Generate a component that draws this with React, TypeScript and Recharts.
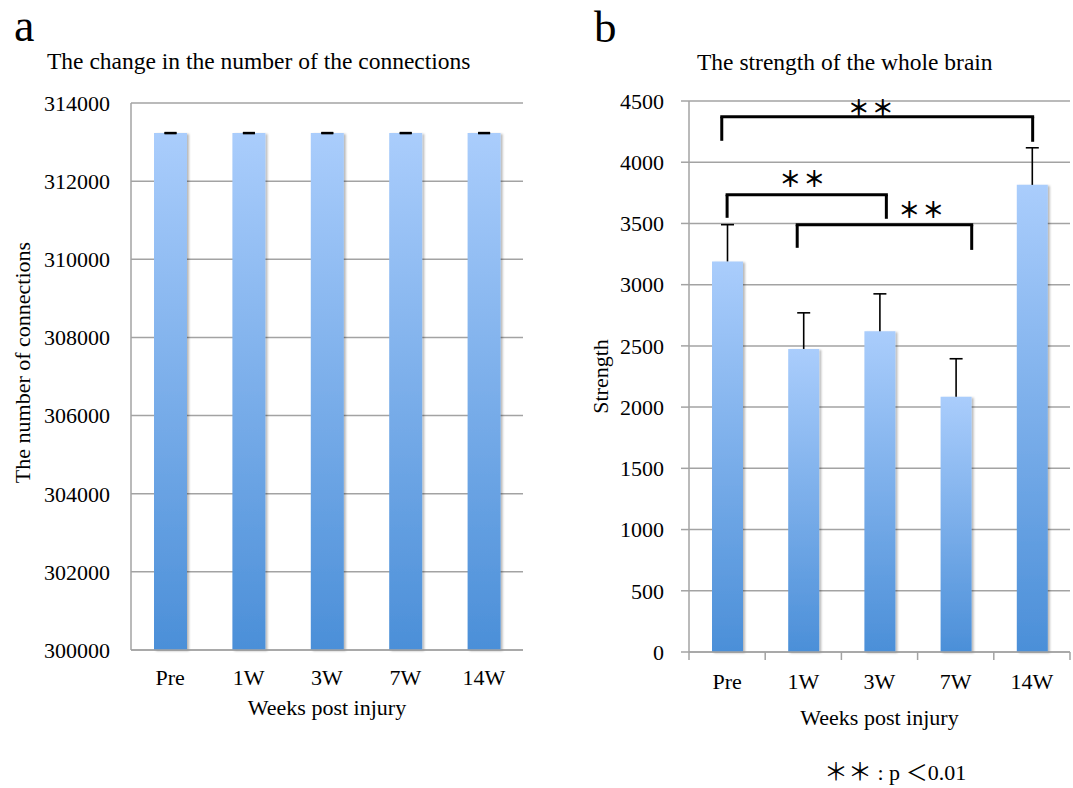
import React from 'react';
import {
  BarChart,
  Bar,
  XAxis,
  YAxis,
  CartesianGrid,
  ErrorBar,
  ReferenceLine,
  ReferenceDot,
} from 'recharts';

const weeks = ['Pre', '1W', '3W', '7W', '14W'];

// panel a: number of connections (identical for every time point)
const connections = [313230, 313230, 313230, 313230, 313230];
const connectionsErr = [4, 4, 4, 4, 4];
const connTicks = [300000, 302000, 304000, 306000, 308000, 310000, 312000, 314000];

// panel b: strength of the whole brain
const strength = [3190, 2475, 2620, 2085, 3815];
const strengthErr = [300, 295, 305, 310, 303];
const strengthTicks = [0, 500, 1000, 1500, 2000, 2500, 3000, 3500, 4000, 4500];
// category boundaries (tick marks) and centres (labels) on the index scale
const weekEdges = [-0.5, 0.5, 1.5, 2.5, 3.5, 4.5];
const weekCentres = [0, 1, 2, 3, 4];

// significance brackets (x on category index scale, y in strength units)
const bracketFrom = [-0.07, 0.0, 0.92];
const bracketTo = [4.01, 2.09, 3.21];
const bracketTop = [4371, 3734, 3489];
const bracketDropL = [4175, 3546, 3301];
const bracketDropR = [4167, 3538, 3284];
const starX = [1.9, 1.0, 2.56];
const starY = [4444, 3864, 3611];

const serif = '"Liberation Serif", "Times New Roman", serif';
const cjk = '"Noto Sans CJK JP", sans-serif';
const gridColor = '#a3a3a3';
const tickStyle = { fontFamily: serif, fontSize: 22, fill: '#000' };
const labelStyle = { fontFamily: serif, fontSize: 22, fill: '#000' };
const TICK_GAP_B = 21;

const dataA = weeks.map((w, i) => ({ week: w, value: connections[i], err: connectionsErr[i] }));
const dataB = weeks.map((w, i) => ({ week: w, pos: i, value: strength[i], err: strengthErr[i] }));
const weekTicks = [...weekEdges, ...weekCentres].sort((a, b) => a - b);

function BarDefs({ id }: { id: string }) {
  return (
    <defs>
      <linearGradient id={`grad-${id}`} x1="0" y1="0" x2="0" y2="1">
        <stop offset="0%" stopColor="#aacdfc" />
        <stop offset="100%" stopColor="#4b8fd8" />
      </linearGradient>
      <filter id={`shadow-${id}`} x="-20%" y="-5%" width="150%" height="110%">
        <feDropShadow dx="2" dy="1" stdDeviation="1.2" floodColor="#000" floodOpacity="0.28" />
      </filter>
    </defs>
  );
}

// upward-only error bar drawn on top of the stacked value bar
function UpperError(props: any) {
  const { x, y, width, height } = props;
  if (x == null || y == null) return null;
  const cx = x + width / 2;
  return (
    <g>
      <line x1={cx} x2={cx} y1={y + height} y2={y} stroke="#000" strokeWidth={1.6} />
      <line x1={cx - 6.5} x2={cx + 6.5} y1={y} y2={y} stroke="#000" strokeWidth={1.6} />
    </g>
  );
}

// label at category centres, short tick mark at category boundaries
function WeekTick(props: any) {
  const { x, y, payload } = props;
  const v = payload.value;
  if (!Number.isInteger(v)) {
    const axisY = y - TICK_GAP_B;
    return <line x1={x} x2={x} y1={axisY} y2={axisY + 8} stroke={gridColor} strokeWidth={1.5} />;
  }
  return (
    <text x={x} y={y} dy="0.71em" textAnchor="middle" {...tickStyle}>
      {weeks[v]}
    </text>
  );
}

function ConnectionsChart() {
  return (
    <BarChart
      width={540}
      height={788}
      data={dataA}
      margin={{ top: 103, right: 17, bottom: 73, left: 0 }}
    >
      <BarDefs id="a" />
      <CartesianGrid vertical={false} stroke={gridColor} strokeWidth={1.5} />
      <XAxis
        dataKey="week"
        height={65}
        axisLine={{ stroke: gridColor, strokeWidth: 1.5 }}
        tickLine={false}
        tickSize={0}
        tickMargin={19}
        tick={tickStyle}
        label={{ value: 'Weeks post injury', position: 'insideBottom', offset: 0, ...labelStyle }}
      />
      <YAxis
        domain={[300000, 314000]}
        ticks={connTicks}
        interval={0}
        width={131}
        axisLine={{ stroke: gridColor, strokeWidth: 1.5 }}
        tickLine={false}
        tickSize={0}
        tickMargin={21}
        tick={tickStyle}
        label={{
          value: 'The number of connections',
          angle: -90,
          position: 'center',
          dx: -43.5,
          dy: -14,
          ...labelStyle,
        }}
      />
      <Bar
        dataKey="value"
        barSize={33}
        fill="url(#grad-a)"
        filter="url(#shadow-a)"
        isAnimationActive={false}
      >
        <ErrorBar dataKey="err" width={6} strokeWidth={2.2} stroke="#000" />
      </Bar>
    </BarChart>
  );
}

function StrengthChart() {
  return (
    <BarChart
      width={513}
      height={788}
      data={dataB}
      margin={{ top: 101, right: 3, bottom: 63, left: 0 }}
    >
      <BarDefs id="b" />
      <CartesianGrid vertical={false} stroke={gridColor} strokeWidth={1.5} />
      <XAxis
        dataKey="pos"
        type="number"
        domain={[-0.5, 4.5]}
        allowDataOverflow
        ticks={weekTicks}
        interval={0}
        height={73}
        axisLine={{ stroke: gridColor, strokeWidth: 1.5 }}
        tickLine={false}
        tickSize={0}
        tickMargin={TICK_GAP_B}
        tick={WeekTick}
        label={{ value: 'Weeks post injury', position: 'insideBottom', offset: 0, ...labelStyle }}
      />
      <YAxis
        domain={[0, 4500]}
        ticks={strengthTicks}
        interval={0}
        width={129}
        axisLine={{ stroke: gridColor, strokeWidth: 1.5 }}
        tickLine={{ stroke: gridColor, strokeWidth: 1.5 }}
        tickSize={8}
        tickMargin={17}
        tick={tickStyle}
        label={{ value: 'Strength', angle: -90, position: 'center', dx: -24.5, ...labelStyle }}
      />
      <Bar
        dataKey="value"
        stackId="s"
        barSize={31}
        fill="url(#grad-b)"
        filter="url(#shadow-b)"
        isAnimationActive={false}
      />
      <Bar dataKey="err" stackId="s" barSize={31} shape={UpperError} isAnimationActive={false} />

      {/* significance brackets */}
      {bracketTop.map((top, i) => (
        <ReferenceLine
          key={`h-${i}`}
          segment={[
            { x: bracketFrom[i], y: top },
            { x: bracketTo[i], y: top },
          ]}
          stroke="#000"
          strokeWidth={3}
          strokeLinecap="square"
          ifOverflow="visible"
        />
      ))}
      {bracketTop.map((top, i) => (
        <ReferenceLine
          key={`l-${i}`}
          segment={[
            { x: bracketFrom[i], y: top },
            { x: bracketFrom[i], y: bracketDropL[i] },
          ]}
          stroke="#000"
          strokeWidth={3}
          ifOverflow="visible"
        />
      ))}
      {bracketTop.map((top, i) => (
        <ReferenceLine
          key={`r-${i}`}
          segment={[
            { x: bracketTo[i], y: top },
            { x: bracketTo[i], y: bracketDropR[i] },
          ]}
          stroke="#000"
          strokeWidth={3}
          ifOverflow="visible"
        />
      ))}
      {starX.map((sx, i) => (
        <ReferenceDot
          key={`s-${i}`}
          x={sx}
          y={starY[i]}
          r={0}
          fill="none"
          stroke="none"
          ifOverflow="visible"
          label={{
            value: '＊＊',
            position: 'center',
            fontFamily: cjk,
            fontWeight: 'bold',
            fontSize: 22,
            letterSpacing: 2,
            fill: '#000',
          }}
        />
      ))}
    </BarChart>
  );
}

export default function App() {
  return (
    <div
      style={{
        position: 'absolute',
        left: 0,
        top: 0,
        width: 1073,
        height: 788,
        background: '#fff',
        fontFamily: serif,
      }}
    >
      <svg
        width={1073}
        height={788}
        style={{ position: 'absolute', left: 0, top: 0 }}
        fontFamily={serif}
      >
        <text x={14} y={41} fontSize={46}>a</text>
        <text x={594} y={42} fontSize={45}>b</text>
        <text x={47} y={69} fontSize={23.5}>The change in the number of the connections</text>
        <text x={697} y={70} fontSize={23.5}>The strength of the whole brain</text>
        <text x={824} y={780} fontSize={22}>
          <tspan fontFamily={cjk} fontSize={24}>＊＊</tspan>
          <tspan> : p </tspan>
          <tspan fontFamily={cjk} fontSize={22}>＜</tspan>
          <tspan>0.01</tspan>
        </text>
      </svg>
      <div style={{ position: 'absolute', left: 0, top: 0 }}>
        <ConnectionsChart />
      </div>
      <div style={{ position: 'absolute', left: 560, top: 0 }}>
        <StrengthChart />
      </div>
    </div>
  );
}
